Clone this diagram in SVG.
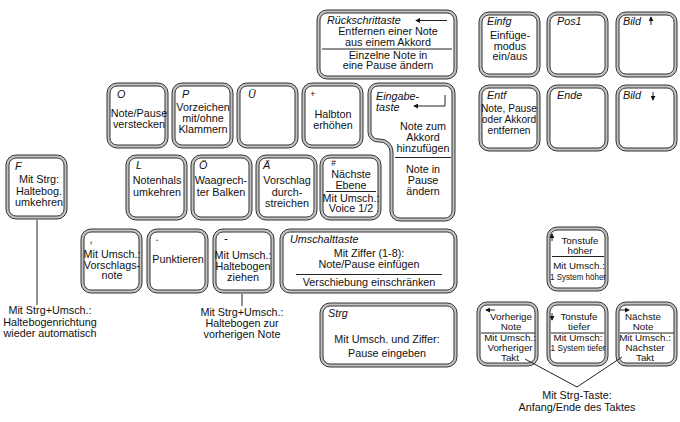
<svg xmlns="http://www.w3.org/2000/svg" width="680" height="422" viewBox="0 0 680 422">
<defs>
<style>
.ko{fill:#c2c2c2;stroke:#333;stroke-width:1}
.ki{fill:#fff;stroke:#333;stroke-width:1}
text{font-family:"Liberation Sans",Arial,sans-serif;font-size:10.8px;fill:#111;text-anchor:middle}
.lb{font-style:italic;text-anchor:start}
.s{font-size:9.8px}
.dv{stroke:#222;stroke-width:1}
.cn{stroke:#222;stroke-width:1;fill:none}
</style>
<marker id="ah" viewBox="0 0 6 6" refX="5" refY="3" markerWidth="5" markerHeight="5" markerUnits="userSpaceOnUse" orient="auto"><path d="M0,0 L6,3 L0,6 z" fill="#111"/></marker>
</defs>
<rect width="680" height="422" fill="#fff"/>

<g id="key-rueck">
<rect class="ko" x="317" y="10" width="140" height="69" rx="10"/>
<rect class="ki" x="320" y="13" width="134" height="63" rx="7"/>
<text class="lb" x="327" y="24">Rückschrittaste</text>
<path class="cn" d="M447,20.5 H416" marker-end="url(#ah)"/>
<text x="388" y="35">Entfernen einer Note</text>
<text x="388" y="45.5">aus einem Akkord</text>
<line class="dv" x1="322" y1="49" x2="452" y2="49"/>
<text x="388" y="58.5">Einzelne Note in</text>
<text x="388" y="69">eine Pause ändern</text>
</g>

<g id="key-einfg">
<rect class="ko" x="479" y="12" width="61" height="65" rx="10"/>
<rect class="ki" x="482" y="15" width="55" height="59" rx="7"/>
<text class="lb" x="487" y="25">Einfg</text>
<text x="510" y="39">Einfüge-</text>
<text x="510" y="49.5">modus</text>
<text x="510" y="60">ein/aus</text>
</g>

<g id="key-pos1">
<rect class="ko" x="547" y="12" width="61" height="65" rx="10"/>
<rect class="ki" x="550" y="15" width="55" height="59" rx="7"/>
<text class="lb" x="557" y="25">Pos1</text>
</g>

<g id="key-bildauf">
<rect class="ko" x="616" y="12" width="61" height="65" rx="10"/>
<rect class="ki" x="619" y="15" width="55" height="59" rx="7"/>
<text class="lb" x="623" y="25">Bild</text>
<path class="cn" d="M651,25 V17" marker-end="url(#ah)"/>
</g>

<g id="key-entf">
<rect class="ko" x="479" y="85" width="61" height="66" rx="10"/>
<rect class="ki" x="482" y="88" width="55" height="60" rx="7"/>
<text class="lb" x="487" y="99">Entf</text>
<text x="509" y="112" style="font-size:10.2px">Note, Pause</text>
<text x="509" y="123" style="font-size:10.2px">oder Akkord</text>
<text x="509" y="134" style="font-size:10.2px">entfernen</text>
</g>

<g id="key-ende">
<rect class="ko" x="547" y="85" width="61" height="66" rx="10"/>
<rect class="ki" x="550" y="88" width="55" height="60" rx="7"/>
<text class="lb" x="557" y="99">Ende</text>
</g>

<g id="key-bildab">
<rect class="ko" x="616" y="85" width="61" height="66" rx="10"/>
<rect class="ki" x="619" y="88" width="55" height="60" rx="7"/>
<text class="lb" x="623" y="99">Bild</text>
<path class="cn" d="M653,92 V100" marker-end="url(#ah)"/>
</g>

<g id="key-o">
<rect class="ko" x="107" y="83" width="61" height="65" rx="10"/>
<rect class="ki" x="110" y="86" width="55" height="59" rx="7"/>
<text class="lb" x="117" y="98">O</text>
<text x="139" y="117">Note/Pause</text>
<text x="139" y="128">verstecken</text>
</g>

<g id="key-p">
<rect class="ko" x="172" y="83" width="61" height="65" rx="10"/>
<rect class="ki" x="175" y="86" width="55" height="59" rx="7"/>
<text class="lb" x="182" y="98">P</text>
<text x="203" y="111">Vorzeichen</text>
<text x="203" y="122">mit/ohne</text>
<text x="203" y="133">Klammern</text>
</g>

<g id="key-ue">
<rect class="ko" x="237" y="83" width="61" height="65" rx="10"/>
<rect class="ki" x="240" y="86" width="55" height="59" rx="7"/>
<text class="lb" x="248" y="98">Ü</text>
</g>

<g id="key-plus">
<rect class="ko" x="302" y="83" width="61" height="65" rx="10"/>
<rect class="ki" x="305" y="86" width="55" height="59" rx="7"/>
<text class="lb" x="310" y="97" style="font-size:9px">+</text>
<text x="333" y="118">Halbton</text>
<text x="333" y="129">erhöhen</text>
</g>

<g id="key-eingabe">
<path class="ko" d="M378,83 H445 A10,10 0 0 1 455,93 V211 A10,10 0 0 1 445,221 H400 A10,10 0 0 1 390,211 V152 A10,10 0 0 0 380,142 H378 A10,10 0 0 1 368,132 V93 A10,10 0 0 1 378,83 Z"/>
<path class="ki" d="M378,86 H445 A7,7 0 0 1 452,93 V211 A7,7 0 0 1 445,218 H400 A7,7 0 0 1 393,211 V152 A13,13 0 0 0 380,139 H378 A7,7 0 0 1 371,132 V93 A7,7 0 0 1 378,86 Z"/>
<text class="lb" x="376" y="100">Eingabe-</text>
<text class="lb" x="376" y="111">taste</text>
<path class="cn" d="M445,95 V106 H414" marker-end="url(#ah)"/>
<text x="423" y="130">Note zum</text>
<text x="423" y="141">Akkord</text>
<text x="423" y="152">hinzufügen</text>
<line class="dv" x1="395" y1="157.5" x2="451" y2="157.5"/>
<text x="423" y="172.5">Note in</text>
<text x="423" y="183.5">Pause</text>
<text x="423" y="195">ändern</text>
</g>

<g id="key-f">
<rect class="ko" x="6" y="155" width="61" height="64" rx="10"/>
<rect class="ki" x="9" y="158" width="55" height="58" rx="7"/>
<text class="lb" x="15" y="170">F</text>
<text x="39" y="183">Mit Strg:</text>
<text x="39" y="195">Haltebog.</text>
<text x="39" y="206">umkehren</text>
</g>

<g id="key-l">
<rect class="ko" x="126" y="155" width="61" height="65" rx="10"/>
<rect class="ki" x="129" y="158" width="55" height="59" rx="7"/>
<text class="lb" x="136" y="169">L</text>
<text x="157" y="184">Notenhals</text>
<text x="157" y="196">umkehren</text>
</g>

<g id="key-oe">
<rect class="ko" x="191" y="155" width="61" height="65" rx="10"/>
<rect class="ki" x="194" y="158" width="55" height="59" rx="7"/>
<text class="lb" x="199" y="169">Ö</text>
<text x="221" y="184">Waagrech-</text>
<text x="221" y="196">ter Balken</text>
</g>

<g id="key-ae">
<rect class="ko" x="256" y="155" width="61" height="65" rx="10"/>
<rect class="ki" x="259" y="158" width="55" height="59" rx="7"/>
<text class="lb" x="263" y="169">Ä</text>
<text x="287" y="184">Vorschlag</text>
<text x="287" y="195.5">durch-</text>
<text x="287" y="207">streichen</text>
</g>

<g id="key-hash">
<rect class="ko" x="320" y="155" width="61" height="65" rx="10"/>
<rect class="ki" x="323" y="158" width="55" height="59" rx="7"/>
<text class="lb" x="331" y="166" style="font-size:8.5px">#</text>
<text x="351" y="177.5">Nächste</text>
<text x="351" y="188.5">Ebene</text>
<line class="dv" x1="326" y1="191.5" x2="376" y2="191.5"/>
<text x="351" y="201.5">Mit Umsch.:</text>
<text x="351" y="212">Voice 1/2</text>
</g>

<g id="key-komma">
<rect class="ko" x="81" y="229" width="61" height="64" rx="10"/>
<rect class="ki" x="84" y="232" width="55" height="58" rx="7"/>
<text class="lb" x="90" y="243">,</text>
<text x="112" y="258">Mit Umsch.:</text>
<text x="112" y="268.5">Vorschlags-</text>
<text x="112" y="279">note</text>
</g>

<g id="key-punkt">
<rect class="ko" x="147" y="229" width="61" height="64" rx="10"/>
<rect class="ki" x="150" y="232" width="55" height="58" rx="7"/>
<text class="lb" x="156" y="241">.</text>
<text x="178" y="263">Punktieren</text>
</g>

<g id="key-minus">
<rect class="ko" x="213" y="229" width="61" height="64" rx="10"/>
<rect class="ki" x="216" y="232" width="55" height="58" rx="7"/>
<text class="lb" x="224" y="242">-</text>
<text x="243" y="259">Mit Umsch.:</text>
<text x="243" y="270">Haltebogen</text>
<text x="243" y="281">ziehen</text>
</g>

<g id="key-umschalt">
<rect class="ko" x="280" y="229" width="177" height="64" rx="10"/>
<rect class="ki" x="283" y="232" width="171" height="58" rx="7"/>
<text class="lb" x="290" y="243">Umschalttaste</text>
<text x="369" y="257">Mit Ziffer (1-8):</text>
<text x="369" y="268">Note/Pause einfügen</text>
<line class="dv" x1="296" y1="274.5" x2="442" y2="274.5"/>
<text x="369" y="286">Verschiebung einschränken</text>
</g>

<g id="key-strg">
<rect class="ko" x="320" y="303" width="137" height="64" rx="10"/>
<rect class="ki" x="323" y="306" width="131" height="58" rx="7"/>
<text class="lb" x="328" y="317">Strg</text>
<text x="387" y="343">Mit Umsch. und Ziffer:</text>
<text x="387" y="357">Pause eingeben</text>
</g>

<g id="key-hoch">
<rect class="ko" x="547" y="227" width="61" height="64" rx="10"/>
<rect class="ki" x="550" y="230" width="55" height="58" rx="7"/>
<path class="cn" d="M552,241 V234" marker-end="url(#ah)"/>
<text class="s" x="580" y="244">Tonstufe</text>
<text class="s" x="580" y="253.5">höher</text>
<line class="dv" x1="552" y1="256.5" x2="604" y2="256.5"/>
<text class="s" x="579" y="269">Mit Umsch.:</text>
<text class="s" x="578" y="279.5" textLength="56" lengthAdjust="spacingAndGlyphs">1 System höher</text>
</g>

<g id="key-links">
<rect class="ko" x="477" y="302" width="61" height="64" rx="10"/>
<rect class="ki" x="480" y="305" width="55" height="58" rx="7"/>
<path class="cn" d="M495,310 H486" marker-end="url(#ah)"/>
<text class="s" x="511" y="320">Vorherige</text>
<text class="s" x="511" y="330">Note</text>
<line class="dv" x1="481" y1="333" x2="535" y2="333"/>
<text class="s" x="510" y="341">Mit Umsch.:</text>
<text class="s" x="510" y="351">Vorheriger</text>
<text class="s" x="510" y="361">Takt</text>
</g>

<g id="key-runter">
<rect class="ko" x="547" y="302" width="61" height="64" rx="10"/>
<rect class="ki" x="550" y="305" width="55" height="58" rx="7"/>
<path class="cn" d="M552,313 V320" marker-end="url(#ah)"/>
<text class="s" x="579" y="320">Tonstufe</text>
<text class="s" x="579" y="330">tiefer</text>
<line class="dv" x1="551" y1="333" x2="604" y2="333"/>
<text class="s" x="578" y="341">Mit Umsch:</text>
<text class="s" x="578" y="351" textLength="55" lengthAdjust="spacingAndGlyphs">1 System tiefer</text>
</g>

<g id="key-rechts">
<rect class="ko" x="616" y="302" width="61" height="64" rx="10"/>
<rect class="ki" x="619" y="305" width="55" height="58" rx="7"/>
<path class="cn" d="M620,310 H629" marker-end="url(#ah)"/>
<text class="s" x="643" y="320">Nächste</text>
<text class="s" x="643" y="330">Note</text>
<line class="dv" x1="620" y1="333" x2="674" y2="333"/>
<text class="s" x="645" y="341">Mit Umsch.:</text>
<text class="s" x="645" y="351">Nächster</text>
<text class="s" x="645" y="361">Takt</text>
</g>

<g id="connectors">
<line class="cn" x1="37" y1="220" x2="37" y2="305"/>
<line class="cn" x1="242" y1="294" x2="242" y2="306"/>
<path class="cn" d="M525,359 L577,387 L622,357"/>
</g>

<g id="notes">
<text x="50" y="314">Mit Strg+Umsch.:</text>
<text x="50" y="326">Haltebogenrichtung</text>
<text x="50" y="337">wieder automatisch</text>
<text x="242" y="316">Mit Strg+Umsch.:</text>
<text x="242" y="327">Haltebogen zur</text>
<text x="242" y="338">vorherigen Note</text>
<text x="577" y="399">Mit Strg-Taste:</text>
<text x="577" y="411">Anfang/Ende des Taktes</text>
</g>
</svg>
